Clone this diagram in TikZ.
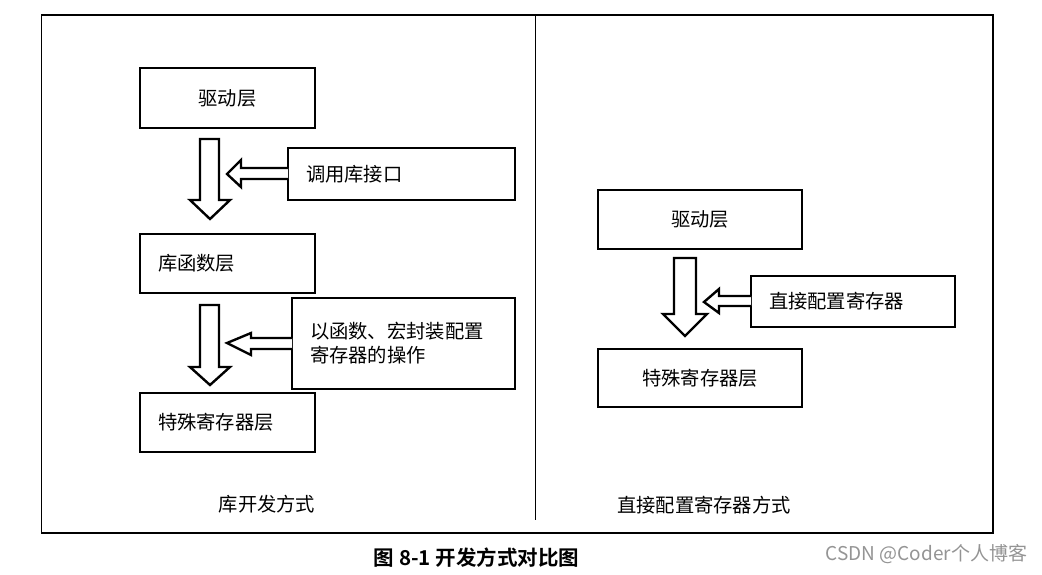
\documentclass[tikz,border=0pt]{standalone}
\usepackage{fontspec}
\newfontfamily\cjk{Noto Sans CJK SC}
\newfontfamily\cjkb{Noto Sans CJK SC}[BoldFont=* Bold]
\setmainfont{Liberation Sans}
\begin{document}
\begin{tikzpicture}[x=1pt,y=-1pt,
  box/.style={draw=black,line width=2.6pt,inner sep=0pt,font=\cjk\fontsize{19.3}{24}\selectfont},
  barrow/.style={draw=black,fill=white,line width=2.4pt,line join=miter},
  txt/.style={inner sep=0pt,font=\cjk\fontsize{19.3}{24}\selectfont}]
\useasboundingbox (0,0) rectangle (1042,574);
\fill[white] (0,0) rectangle (1042,574);
% frame
\draw[line width=1.5pt] (41.5,15) rectangle (993,533);
\coordinate (dtop) at (535.5,15);
\coordinate (dbot) at (535.5,520);
\draw[line width=1.5pt] (dtop) -- (dbot);
% left column
\node[box,minimum width=175,minimum height=60] (drvL) at (227.5,98) {驱动层};
\node[box,minimum width=227,minimum height=52,text width=191,align=left] (callL) at (401.5,174) {调用库接口};
\node[box,minimum width=175,minimum height=59,text width=139,align=left] (libL) at (227.5,263.5) {库函数层};
\node[box,minimum width=223,minimum height=91,text width=187,align=left] (macL) at (403.5,343.5) {以函数、宏封装配置\\寄存器的操作};
\node[box,minimum width=175,minimum height=59,text width=139,align=left] (regL) at (227.5,422.5) {特殊寄存器层};
% left block arrows
\draw[barrow] (200,139) -- (219,139) -- (219,200) -- (230,200) -- (210,219) -- (190,200) -- (200,200) -- cycle;
\draw[barrow] (288,168) -- (241,168) -- (241,160) -- (227,174) -- (241,187) -- (241,179) -- (288,179);
\draw[barrow] (200,305) -- (219,305) -- (219,367) -- (230,367) -- (210,385) -- (190,367) -- (200,367) -- cycle;
\draw[barrow] (292,338) -- (251,338) -- (251,333) -- (227,343) -- (251,355) -- (251,349) -- (292,349);
\node[txt] (capL) at (267,504) {库开发方式};
% right column
\node[box,minimum width=204,minimum height=59] (drvR) at (700,219.5) {驱动层};
\node[box,minimum width=204,minimum height=51,text width=168,align=left] (dirR) at (853,301.5) {直接配置寄存器};
\node[box,minimum width=204,minimum height=58] (regR) at (700,378) {特殊寄存器层};
\draw[barrow] (674,258) -- (696,258) -- (696,314) -- (707,314) -- (685,336) -- (663,314) -- (674,314) -- cycle;
\draw[barrow] (751,296) -- (719,296) -- (719,289) -- (704,302) -- (719,313) -- (719,306) -- (751,306);
\node[txt] (capR) at (704,505) {直接配置寄存器方式};
% caption
\node[inner sep=0pt,font=\cjkb\bfseries\fontsize{20.5}{22}\selectfont] (fig) at (476.5,558) {图 8-1 开发方式对比图};
\node[inner sep=0pt,text=black!42,font=\cjk\fontsize{19}{20}\selectfont] (wm) at (926.5,554) {CSDN @Coder个人博客};
\end{tikzpicture}
\end{document}
